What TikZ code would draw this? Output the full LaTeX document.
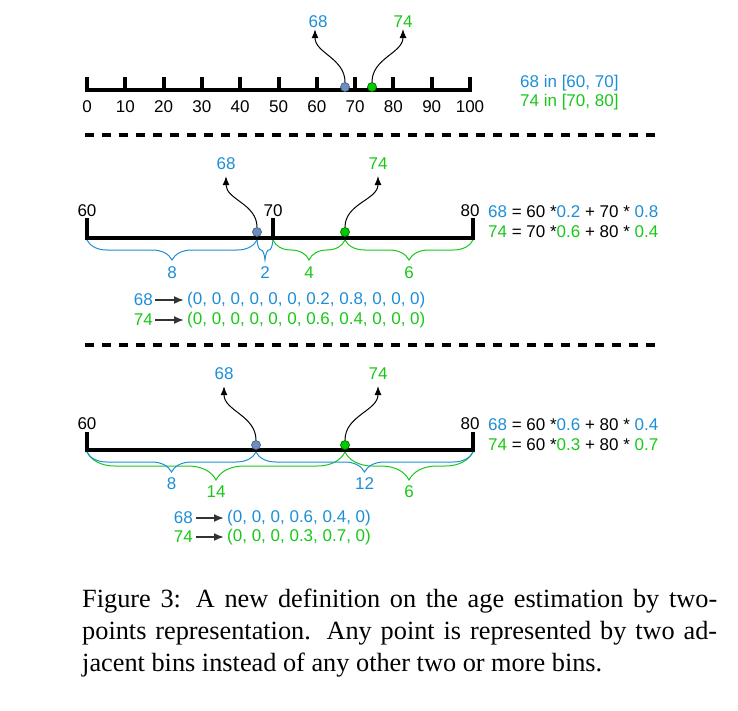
\documentclass[tikz,border=0pt]{standalone}
\usepackage{fontspec}
\setmainfont{Liberation Serif}
\setsansfont{Liberation Sans}
\usetikzlibrary{arrows.meta,decorations.pathreplacing}
\definecolor{cblue}{RGB}{30,142,214}
\definecolor{cgreen}{RGB}{24,200,24}
\definecolor{dotblue}{RGB}{108,142,191}
\definecolor{dotgreen}{RGB}{0,204,0}
\tikzset{
  lbl/.style={font=\sffamily\fontsize{17}{20}\selectfont, inner sep=0pt},
  ruler/.style={line width=4pt},
  bdot/.style={circle, minimum size=9pt, inner sep=0pt, fill=dotblue, draw=dotblue!70!black, line width=0.7pt},
  gdot/.style={circle, minimum size=9pt, inner sep=0pt, fill=dotgreen, draw=dotgreen!55!black, line width=0.7pt},
  curv/.style={-{Latex[length=9pt,width=7pt]}, line width=1pt},
  vecarr/.style={-{Latex[length=10pt,width=8pt]}, line width=1.8pt, draw=black!80, fill=black},
  bbrace/.style={cblue, line width=1pt, decorate, decoration={brace, mirror, amplitude=20pt}},
  gbrace/.style={cgreen, line width=1pt, decorate, decoration={brace, mirror, amplitude=#1}},
  gbrace/.default=20pt,
  sepline/.style={line width=4pt, dash pattern=on 9pt off 8pt},
}
\newcommand{\cb}[1]{{\color{cblue}#1}}
\newcommand{\cg}[1]{{\color{cgreen}#1}}
\begin{document}
\begin{tikzpicture}[x=1pt,y=-1pt]
\useasboundingbox (0,0) rectangle (738,710);
% top: ruler 0..100
\foreach \v in {0,10,...,100}{
  \pgfmathsetmacro{\px}{87+3.83*\v}
  \draw[ruler] (\px,77) -- (\px,92);
  \node[lbl] (t\v) at (\px,107) {\v};
}
\draw[ruler] (87,90) -- (470,90);
\node[bdot] (da68) at (345,87) {};
\node[gdot] (da74) at (372,87) {};
\node[lbl, text=cblue] (la68) at (318,22) {68};
\node[lbl, text=cgreen] (la74) at (403,22) {74};
\draw[curv] (da68.north) to[out=90,in=-90] ([xshift=-3pt,yshift=-1pt]la68.south);
\draw[curv] (da74.north) to[out=90,in=-90] ([yshift=-1pt]la74.south);
\node[lbl, anchor=west, text=cblue] (ra68) at (520,83) {68 in [60, 70]};
\node[lbl, anchor=west, text=cgreen] (ra74) at (520,102) {74 in [70, 80]};
\draw[sepline] (85,135) -- (660,135);
% middle: bins 60,70,80
\draw[ruler] (87,218) -- (87,238) -- (473,238) -- (473,218);
\draw[ruler] (273,218) -- (273,238);
\node[lbl] (m60) at (87,211) {60};
\node[lbl] (m70) at (273,211) {70};
\node[lbl] (m80) at (470,211) {80};
\node[bdot] (db68) at (257,232) {};
\node[gdot] (db74) at (345,232) {};
\node[lbl, text=cblue] (lb68) at (226,164) {68};
\node[lbl, text=cgreen] (lb74) at (378,164) {74};
\draw[curv] (db68.north) to[out=90,in=-90] ([yshift=-6pt]lb68.south);
\draw[curv] (db74.north) to[out=90,in=-90] ([yshift=-6pt]lb74.south);
\draw[bbrace] (87,240) -- (257,240) node[midway, below=26pt, lbl, text=cblue] (bb8) {8};
\draw[bbrace] (257,240) -- (273,240) node[midway, below=26pt, lbl, text=cblue] (bb2) {2};
\draw[gbrace] (273,240) -- (345,240) node[midway, below=26pt, lbl, text=cgreen] (bb4) {4};
\draw[gbrace] (345,240) -- (473,240) node[midway, below=26pt, lbl, text=cgreen] (bb6) {6};
\node[lbl, anchor=west] (rb68) at (488,212) {\cb{68} = 60 *\cb{0.2} + 70 * \cb{0.8}};
\node[lbl, anchor=west] (rb74) at (488,232) {\cg{74} = 70 *\cg{0.6} + 80 * \cg{0.4}};
\node[lbl, anchor=east, text=cblue] (vb68) at (153,300) {68};
\node[lbl, anchor=east, text=cgreen] (vb74) at (153,320) {74};
\node[lbl, anchor=west, text=cblue] (wb68) at (187,300) {(0, 0, 0, 0, 0, 0, 0.2, 0.8, 0, 0, 0)};
\node[lbl, anchor=west, text=cgreen] (wb74) at (187,320) {(0, 0, 0, 0, 0, 0, 0.6, 0.4, 0, 0, 0)};
\draw[vecarr] ([xshift=2pt]vb68.east) -- ([xshift=-3pt]wb68.west);
\draw[vecarr] ([xshift=2pt]vb74.east) -- ([xshift=-3pt]wb74.west);
\draw[sepline] (85,345) -- (660,345);
% bottom: bins 60,80
\draw[ruler] (87,432) -- (87,450) -- (473,450) -- (473,432);
\node[lbl] (n60) at (87,424) {60};
\node[lbl] (n80) at (470,424) {80};
\node[bdot] (dc68) at (256,445) {};
\node[gdot] (dc74) at (345,445) {};
\node[lbl, text=cblue] (lc68) at (224,374) {68};
\node[lbl, text=cgreen] (lc74) at (378,374) {74};
\draw[curv] (dc68.north) to[out=90,in=-90] ([yshift=-6pt]lc68.south);
\draw[curv] (dc74.north) to[out=90,in=-90] ([yshift=-6pt]lc74.south);
\draw[gbrace=28pt] (87,452) -- (345,452) node[midway, below=33pt, lbl, text=cgreen] (cb14) {14};
\draw[gbrace=28pt] (345,452) -- (473,452) node[midway, below=33pt, lbl, text=cgreen] (cb6) {6};
\draw[bbrace] (87,452) -- (256,452) node[midway, below=25pt, lbl, text=cblue] (cb8) {8};
\draw[bbrace] (256,452) -- (473,452) node[midway, below=25pt, lbl, text=cblue] (cb12) {12};
\node[lbl, anchor=west] (rc68) at (488,425) {\cb{68} = 60 *\cb{0.6} + 80 * \cb{0.4}};
\node[lbl, anchor=west] (rc74) at (488,445) {\cg{74} = 60 *\cg{0.3} + 80 * \cg{0.7}};
\node[lbl, anchor=east, text=cblue] (vc68) at (193,518) {68};
\node[lbl, anchor=east, text=cgreen] (vc74) at (193,537) {74};
\node[lbl, anchor=west, text=cblue] (wc68) at (227,518) {(0, 0, 0, 0.6, 0.4, 0)};
\node[lbl, anchor=west, text=cgreen] (wc74) at (227,537) {(0, 0, 0, 0.3, 0.7, 0)};
\draw[vecarr] ([xshift=3pt]vc68.east) -- ([xshift=-3pt]wc68.west);
\draw[vecarr] ([xshift=3pt]vc74.east) -- ([xshift=-3pt]wc74.west);
% caption
\node[anchor=north west, inner sep=0pt, text width=635pt, align=justify,
  font=\rmfamily\fontsize{26.3}{32}\selectfont] (cap) at (82,589)
  {Figure 3: A new definition on the age estimation by two-\linebreak points representation.  Any point is represented by two ad-\linebreak jacent bins instead of any other two or more bins.};
\end{tikzpicture}
\end{document}
